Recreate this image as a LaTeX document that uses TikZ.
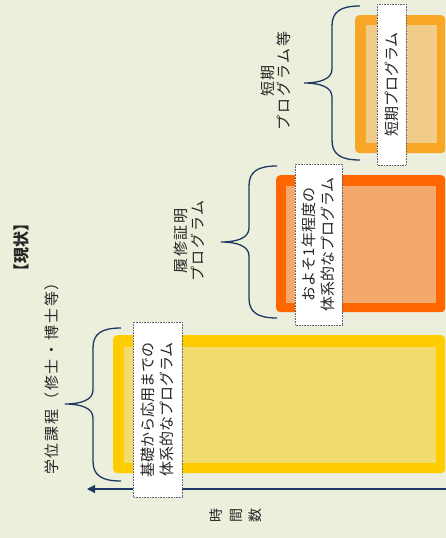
\documentclass[tikz,border=0pt]{standalone}
\usepackage{fontspec}
\setmainfont{Noto Sans CJK JP}
\newfontfamily\jpwide[LetterSpace=12]{Noto Sans CJK JP}
\usetikzlibrary{arrows.meta}
\definecolor{bg}{HTML}{EBEFDC}
\definecolor{yelOut}{HTML}{FFCC00}
\definecolor{yelIn}{HTML}{F2DC6E}
\definecolor{oraOut}{HTML}{FF6600}
\definecolor{oraIn}{HTML}{F4A96C}
\definecolor{ltoOut}{HTML}{F9A526}
\definecolor{ltoIn}{HTML}{F1CB88}
\definecolor{navy}{HTML}{203864}
\definecolor{txt}{HTML}{262626}
\definecolor{dotc}{HTML}{5A6478}
\tikzset{
  outerbox/.style={rounded corners=4pt, anchor=north west, inner sep=0pt, draw=none},
  innerbox/.style={anchor=north west, inner sep=0pt, draw=none},
  labelbox/.style={rotate=90, fill=white, draw=dotc, densely dotted, line width=0.6pt,
    inner sep=0pt, align=center, text=txt, font=\fontsize{15}{19.5}\selectfont},
  outlabel/.style={rotate=90, align=center, text=txt, inner sep=0pt,
    font=\jpwide\fontsize{15}{16.5}\selectfont},
  bracestyle/.style={draw=navy, line width=1.3pt},
  axis/.style={draw=navy, line width=1.2pt, -{Triangle[length=8pt,width=8pt]}},
}
\newcommand\mybrace[4]{%
  \draw[bracestyle] (#1,#2) .. controls (#1-20,#2) and (#1-28,#2+6) .. (#1-28,#2+20)
    -- (#1-28,#3-14) .. controls (#1-28,#3-4) and (#1-40,#3) .. (#1-56,#3)
    .. controls (#1-40,#3) and (#1-28,#3+4) .. (#1-28,#3+14)
    -- (#1-28,#4-20) .. controls (#1-28,#4-6) and (#1-20,#4) .. (#1,#4);}
\begin{document}
\begin{tikzpicture}[x=1pt,y=-1pt]
\useasboundingbox (0,0) rectangle (446,538);
\fill[bg] (0,0) rectangle (446,538);
% coloured bars
\node[outerbox, fill=yelOut, minimum width=332pt, minimum height=138pt] (ybarO) at (113,335) {};
\node[innerbox, fill=yelIn, minimum width=312pt, minimum height=116pt] (ybarI) at (124,347) {};
\node[outerbox, fill=oraOut, minimum width=169pt, minimum height=137pt] (obarO) at (276,175) {};
\node[innerbox, fill=oraIn, minimum width=150pt, minimum height=117pt] (obarI) at (286,186) {};
\node[outerbox, fill=ltoOut, minimum width=90pt, minimum height=138pt] (tbarO) at (355,15) {};
\node[innerbox, fill=ltoIn, minimum width=71pt, minimum height=118pt] (tbarI) at (366,25) {};
% axis
\coordinate (axR) at (446,489);
\coordinate (axL) at (87,489);
\draw[axis] (axR) -- (axL);
% braces
\mybrace{121}{328}{404}{481}
\mybrace{277}{166}{242}{318}
\mybrace{360}{6}{83}{160}
% label boxes
\node[labelbox, minimum width=175pt, minimum height=49pt] (ylab) at (157.5,409.5)
  {基礎から応用までの\\体系的なプログラム};
\node[labelbox, minimum width=161pt, minimum height=47pt] (olab) at (318.5,244.5)
  {およそ1年程度の\\体系的なプログラム};
\node[labelbox, minimum width=161pt, minimum height=29pt] (tlab) at (391.5,84.5)
  {短期プログラム};
% outside labels
\node[rotate=90, text=txt, inner sep=0pt, font=\bfseries\fontsize{16}{18}\selectfont] (title) at (21,247) {【現状】};
\node[outlabel] (deg) at (52,375) {学位課程（修士・博士等）};
\node[outlabel] (cert) at (189,241) {履修証明\\プログラム};
\node[outlabel] (short) at (276,81) {短期\\プログラム等};
\node[rotate=90, text=txt, inner sep=0pt, font=\fontsize{14}{16}\selectfont] (t1) at (216.5,515) {時};
\node[rotate=90, text=txt, inner sep=0pt, font=\fontsize{14}{16}\selectfont] (t2) at (236.5,515) {間};
\node[rotate=90, text=txt, inner sep=0pt, font=\fontsize{14}{16}\selectfont] (t3) at (255.5,515) {数};
\end{tikzpicture}
\end{document}
